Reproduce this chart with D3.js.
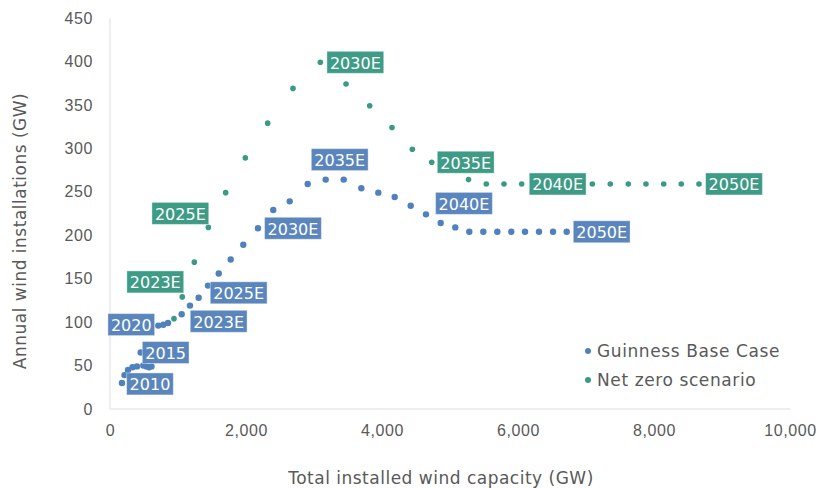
<!DOCTYPE html>
<html>
<head>
<meta charset="utf-8">
<script src="https://cdn.jsdelivr.net/npm/d3@7"></script>
<style>
  body { margin: 0; background: #fff; }
  svg { font-family: "DejaVu Sans", sans-serif; }
</style>
</head>
<body>
<div id="chart"></div>
<script>
// Guinness base case: total installed capacity (GW) vs annual installations (GW)
const baseYears = [2010, 2011, 2012, 2013, 2014, 2015, 2016, 2017, 2018, 2019,
    2020, 2021, 2022, 2023, 2024, 2025, 2026, 2027, 2028, 2029,
    2030, 2031, 2032, 2033, 2034, 2035, 2036, 2037, 2038, 2039,
    2040, 2041, 2042, 2043, 2044, 2045, 2046, 2047, 2048, 2049, 2050];
const baseCapacity = [176, 213, 265, 331, 397, 451, 490, 537, 574, 610,
    710, 784, 853, 1054, 1176, 1304, 1441, 1599, 1775, 1960,
    2176, 2401, 2643, 2907, 3172, 3437, 3696, 3946, 4187, 4422,
    4647, 4863, 5078, 5284, 5490, 5696, 5901, 6103, 6309, 6515, 6716];
const baseInstalls = [30, 39, 45, 48, 49, 65, 50, 49, 48, 49,
    96, 97, 99, 109, 119, 128, 142, 156, 172, 189,
    208, 229, 239, 259, 264, 264, 254, 249, 244, 234,
    224, 214, 209, 204, 204, 204, 204, 204, 204, 204, 204];

// Net zero scenario
const nzYears = [2022, 2023, 2024, 2025, 2026, 2027, 2028, 2029,
    2030, 2031, 2032, 2033, 2034, 2035, 2036, 2037, 2038, 2039,
    2040, 2041, 2042, 2043, 2044, 2045, 2046, 2047, 2048, 2049, 2050];
const nzCapacity = [941, 1063, 1240, 1446, 1701, 1990, 2319, 2691,
    3093, 3471, 3819, 4147, 4446, 4731, 5000, 5272, 5534, 5794,
    6054, 6315, 6574, 6835, 7093, 7357, 7622, 7882, 8143, 8401, 8662];
const nzInstalls = [104, 129, 169, 209, 249, 289, 329, 369,
    399, 374, 349, 324, 299, 284, 277, 264, 259, 259,
    259, 259, 259, 259, 259, 259, 259, 259, 259, 259, 259];

const xTicks = [0, 2000, 4000, 6000, 8000, 10000];
const yTicks = [0, 50, 100, 150, 200, 250, 300, 350, 400, 450];

// which years get a label, and where the box sits relative to the dot (px)
const baseLabels = [
    { year: 2010, text: "2010", dx: 28, dy: 1 },
    { year: 2015, text: "2015", dx: 25, dy: 0 },
    { year: 2020, text: "2020", dx: -27, dy: -1 },
    { year: 2023, text: "2023E", dx: 37, dy: 7 },
    { year: 2025, text: "2025E", dx: 40, dy: -5 },
    { year: 2030, text: "2030E", dx: 35, dy: 0 },
    { year: 2035, text: "2035E", dx: -4, dy: -20 },
    { year: 2040, text: "2040E", dx: 38, dy: -11 },
    { year: 2050, text: "2050E", dx: 35, dy: 0 }
];
const nzLabels = [
    { year: 2023, text: "2023E", dx: -27, dy: -15 },
    { year: 2025, text: "2025E", dx: -28, dy: -14 },
    { year: 2030, text: "2030E", dx: 35, dy: 0 },
    { year: 2035, text: "2035E", dx: 34, dy: 0 },
    { year: 2040, text: "2040E", dx: 36, dy: 0 },
    { year: 2050, text: "2050E", dx: 35, dy: 0 }
];

const blue = "#4f81bd";
const green = "#3a9a84";
const textColor = "#595959";

const width = 822, height = 488;
const margin = { top: 18, right: 32, bottom: 79, left: 110 };

const svg = d3.select("#chart").append("svg")
    .attr("width", width)
    .attr("height", height);

const x = d3.scaleLinear().domain([0, 10000]).range([margin.left, width - margin.right]);
const y = d3.scaleLinear().domain([0, 450]).range([height - margin.bottom, margin.top]);

// axes lines (light, no ticks)
svg.append("line")
    .attr("x1", x(0)).attr("x2", x(10000))
    .attr("y1", y(0)).attr("y2", y(0))
    .attr("stroke", "#d9dde8").attr("stroke-width", 1);
svg.append("line")
    .attr("x1", x(0)).attr("x2", x(0))
    .attr("y1", y(0)).attr("y2", y(450))
    .attr("stroke", "#d9dde8").attr("stroke-width", 1);

// x axis
const xAxis = svg.append("g")
    .attr("transform", `translate(0,${y(0)})`)
    .call(d3.axisBottom(x).tickValues(xTicks).tickSize(0).tickPadding(16).tickFormat(d3.format(",")));
xAxis.select(".domain").remove();
xAxis.selectAll("text").attr("fill", textColor).style("font-size", "16px").style("letter-spacing", "0.6px");

// y axis
const yAxis = svg.append("g")
    .attr("transform", `translate(${x(0)},0)`)
    .call(d3.axisLeft(y).tickValues(yTicks).tickSize(0).tickPadding(17));
yAxis.select(".domain").remove();
yAxis.selectAll("text").attr("fill", textColor).style("font-size", "16px").style("letter-spacing", "0.6px");

// axis titles
svg.append("text")
    .attr("x", 441).attr("y", 484)
    .attr("text-anchor", "middle")
    .attr("fill", textColor)
    .style("font-size", "17px")
    .style("letter-spacing", "0.5px")
    .text("Total installed wind capacity (GW)");

svg.append("text")
    .attr("transform", "translate(26,231) rotate(-90)")
    .attr("text-anchor", "middle")
    .attr("fill", textColor)
    .style("font-size", "17px")
    .style("letter-spacing", "0.5px")
    .text("Annual wind installations (GW)");

const baseData = baseYears.map((yr, i) => ({ year: yr, cap: baseCapacity[i], inst: baseInstalls[i] }));
const nzData = nzYears.map((yr, i) => ({ year: yr, cap: nzCapacity[i], inst: nzInstalls[i] }));

function drawDots(data, color, r) {
    svg.append("g").selectAll("circle")
        .data(data)
        .join("circle")
        .attr("cx", d => x(d.cap))
        .attr("cy", d => y(d.inst))
        .attr("r", r)
        .attr("fill", color);
}

drawDots(baseData, blue, 3.2);
drawDots(nzData, green, 2.8);

function drawLabels(labels, data, fill) {
    labels.forEach(l => {
        const d = data.find(p => p.year === l.year);
        const cx = x(d.cap) + l.dx;
        const cy = y(d.inst) + l.dy;
        const g = svg.append("g");
        const rect = g.append("rect").attr("fill", fill).attr("stroke", "#ffffff").attr("stroke-opacity", 0.4);
        const t = g.append("text")
            .attr("x", cx).attr("y", cy + 1)
            .attr("text-anchor", "middle")
            .attr("dominant-baseline", "central")
            .attr("fill", "#fff")
            .style("font-size", "16px")
            .text(l.text);
        const w = t.node().getComputedTextLength() + 6;
        const h = 22;
        rect.attr("x", cx - w / 2).attr("y", cy - h / 2)
            .attr("width", w).attr("height", h);
    });
}

drawLabels(nzLabels, nzData, "#3e9b85");
drawLabels(baseLabels, baseData, "#5a86bd");

// legend
const legend = [
    { name: "Guinness Base Case", color: blue, y: 351 },
    { name: "Net zero scenario", color: green, y: 380 }
];
legend.forEach(l => {
    svg.append("circle").attr("cx", 588).attr("cy", l.y).attr("r", 3).attr("fill", l.color);
    svg.append("text")
        .attr("x", 597).attr("y", l.y)
        .attr("dominant-baseline", "central")
        .attr("fill", textColor)
        .style("font-size", "17px")
        .style("letter-spacing", "0.6px")
        .text(l.name);
});
</script>
</body>
</html>
